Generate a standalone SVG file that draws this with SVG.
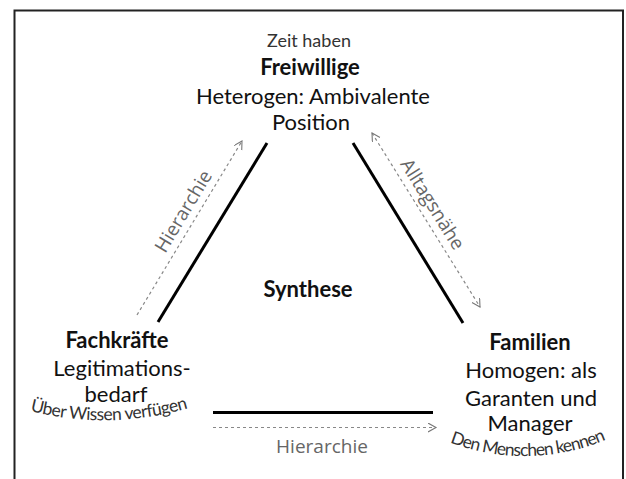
<svg xmlns="http://www.w3.org/2000/svg" width="626" height="479" viewBox="0 0 626 479">
  <style>
    .main { font-family: Lato, "Open Sans", "Liberation Sans", sans-serif; font-size: 22px; fill: #111; text-anchor: middle; }
    .bold { font-weight: bold; }
    .arc { font-family: Lato, "Open Sans", "Liberation Sans", sans-serif; font-size: 17.5px; fill: #333; }
    .lbl { font-family: "Open Sans", "Liberation Sans", sans-serif; font-size: 19px; fill: #666; text-anchor: middle; }
    .solid { stroke: #000; stroke-width: 3; fill: none; }
    .dash { stroke: #888; stroke-width: 1.2; stroke-dasharray: 3 3; fill: none; }
  </style>
  <defs>
    <marker id="arr" markerUnits="userSpaceOnUse" markerWidth="10" markerHeight="10" refX="8" refY="4.5" orient="auto-start-reverse">
      <path d="M0,0 L8,4.5 L0,9" fill="none" stroke="#777" stroke-width="1.1"/>
    </marker>
    <path id="arcL" d="M 26 410 A 300 300 0 0 0 192 407"/>
    <path id="arcR" d="M 444 440 A 210 210 0 0 0 612 437"/>
  </defs>
  <rect x="0" y="0" width="626" height="479" fill="#fff"/>
  <path d="M 14.5 490 L 14.5 10.5 L 623 10.5 L 623 490" fill="none" stroke="#222" stroke-width="2"/>

  <g id="connectors">
    <line class="solid" x1="267" y1="143" x2="158" y2="322"/>
    <line class="solid" x1="353" y1="143" x2="463" y2="323"/>
    <line class="solid" x1="213" y1="412.5" x2="433" y2="412.5"/>
    <line class="dash" x1="137" y1="315" x2="242" y2="141" marker-end="url(#arr)"/>
    <line class="dash" x1="372" y1="133" x2="480" y2="307" marker-start="url(#arr)" marker-end="url(#arr)"/>
    <line class="dash" x1="213" y1="427.5" x2="436" y2="427.5" marker-end="url(#arr)"/>
    <text class="lbl" transform="translate(183,211) rotate(-59)" dominant-baseline="central">Hierarchie</text>
    <text class="lbl" transform="translate(433,204) rotate(58)" dominant-baseline="central">Alltagsnähe</text>
    <text class="lbl" x="322" y="453">Hierarchie</text>
  </g>

  <g id="freiwillige">
    <text class="main" x="309" y="47" style="font-size:18px;fill:#333">Zeit haben</text>
    <text class="main bold" x="310" y="75">Freiwillige</text>
    <text class="main" x="313" y="104">Heterogen: Ambivalente</text>
    <text class="main" x="311" y="130">Position</text>
  </g>

  <g id="synthese">
    <text class="main bold" x="308" y="297">Synthese</text>
  </g>

  <g id="fachkraefte">
    <text class="main bold" x="117" y="348">Fachkräfte</text>
    <text class="main" x="122" y="376">Legitimations-</text>
    <text class="main" x="116" y="402">bedarf</text>
    <text class="arc"><textPath href="#arcL" startOffset="50%" text-anchor="middle" textLength="160">Über Wissen verfügen</textPath></text>
  </g>

  <g id="familien">
    <text class="main bold" x="530" y="350">Familien</text>
    <text class="main" x="531" y="378">Homogen: als</text>
    <text class="main" x="531" y="406">Garanten und</text>
    <text class="main" x="530" y="431">Manager</text>
    <text class="arc"><textPath href="#arcR" startOffset="50%" text-anchor="middle" textLength="160">Den Menschen kennen</textPath></text>
  </g>
</svg>
